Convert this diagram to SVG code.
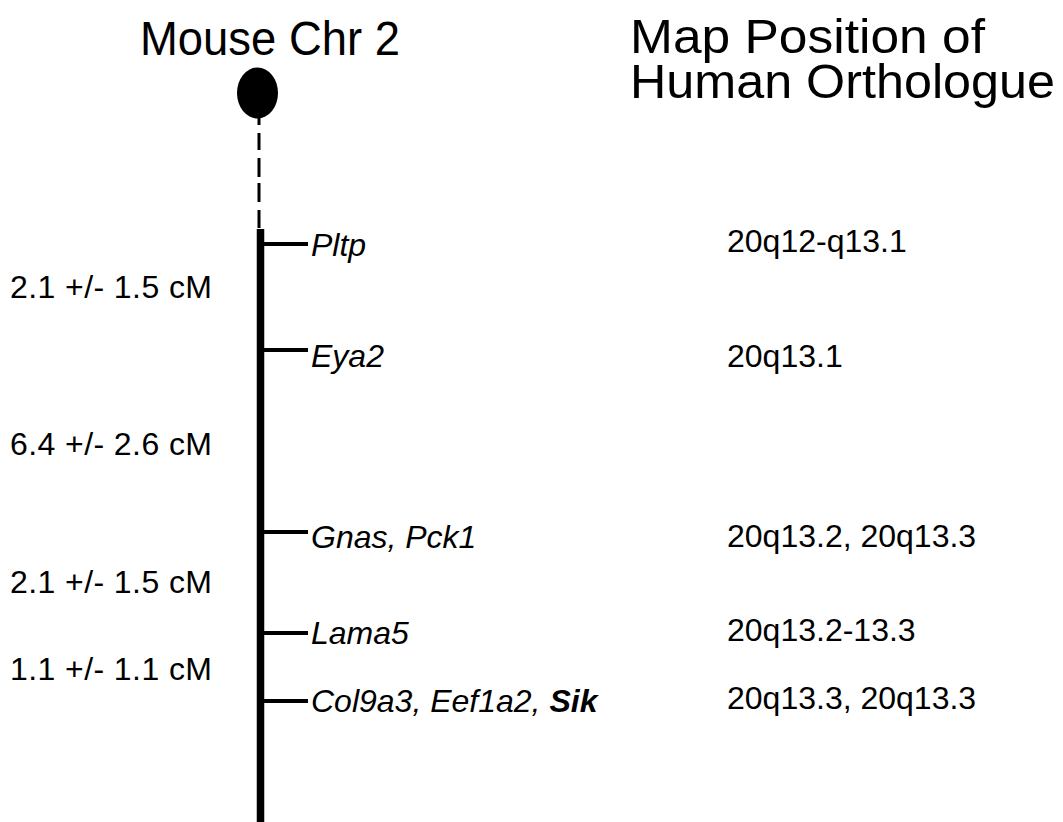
<svg xmlns="http://www.w3.org/2000/svg" width="1063" height="822" viewBox="0 0 1063 822">
  <style>
    text { font-family: "Liberation Sans", Arial, Helvetica, sans-serif; fill: #000; }
    .title { font-size: 49px; }
    .lbl { font-size: 32px; }
    .gene { font-size: 32px; font-style: italic; }
    .tick { stroke: #000; stroke-width: 4; }
  </style>
  <rect width="1063" height="822" fill="#fff"/>

  <!-- column headings -->
  <g id="headings">
    <text class="title" x="140" y="55" textLength="260" lengthAdjust="spacingAndGlyphs">Mouse Chr 2</text>
    <text class="title"><tspan x="630" y="53" textLength="355" lengthAdjust="spacingAndGlyphs">Map Position of</tspan><tspan x="630" y="98" textLength="425" lengthAdjust="spacingAndGlyphs">Human Orthologue</tspan></text>
  </g>

  <!-- chromosome: centromere, dashed proximal segment, solid body -->
  <g id="chromosome">
    <ellipse cx="257.5" cy="93" rx="20.5" ry="25.5" fill="#000"/>
    <line x1="259" y1="118" x2="259" y2="229" stroke="#000" stroke-width="3" stroke-dasharray="7 8 17 8 19 6 19 8 18"/>
    <line x1="260.5" y1="229" x2="260.5" y2="822" stroke="#000" stroke-width="7.5"/>
  </g>

  <!-- marker ticks -->
  <g id="connectors">
    <line class="tick" x1="264" y1="244" x2="308" y2="244"/>
    <line class="tick" x1="264" y1="350" x2="308" y2="350"/>
    <line class="tick" x1="264" y1="532" x2="308" y2="532"/>
    <line class="tick" x1="264" y1="633" x2="308" y2="633"/>
    <line class="tick" x1="264" y1="701" x2="308" y2="701"/>
  </g>

  <!-- mouse loci with human map positions -->
  <g id="pltp"><text class="gene" x="311" y="256">Pltp</text><text class="lbl" x="727" y="252">20q12-q13.1</text></g>
  <g id="eya2"><text class="gene" x="311" y="367">Eya2</text><text class="lbl" x="727" y="367">20q13.1</text></g>
  <g id="gnas-pck1"><text class="gene" x="311" y="548">Gnas, Pck1</text><text class="lbl" x="727" y="547">20q13.2, 20q13.3</text></g>
  <g id="lama5"><text class="gene" x="311" y="644">Lama5</text><text class="lbl" x="727" y="641">20q13.2-13.3</text></g>
  <g id="col9a3-eef1a2-sik"><text class="gene" x="311" y="712">Col9a3, Eef1a2, <tspan font-weight="bold">Sik</tspan></text><text class="lbl" x="727" y="709">20q13.3, 20q13.3</text></g>

  <!-- genetic distances between loci -->
  <g id="distances">
    <text class="lbl" x="10" y="298" textLength="202">2.1 +/- 1.5 cM</text>
    <text class="lbl" x="10" y="455" textLength="202">6.4 +/- 2.6 cM</text>
    <text class="lbl" x="10" y="593" textLength="202">2.1 +/- 1.5 cM</text>
    <text class="lbl" x="10" y="680" textLength="202">1.1 +/- 1.1 cM</text>
  </g>
</svg>
